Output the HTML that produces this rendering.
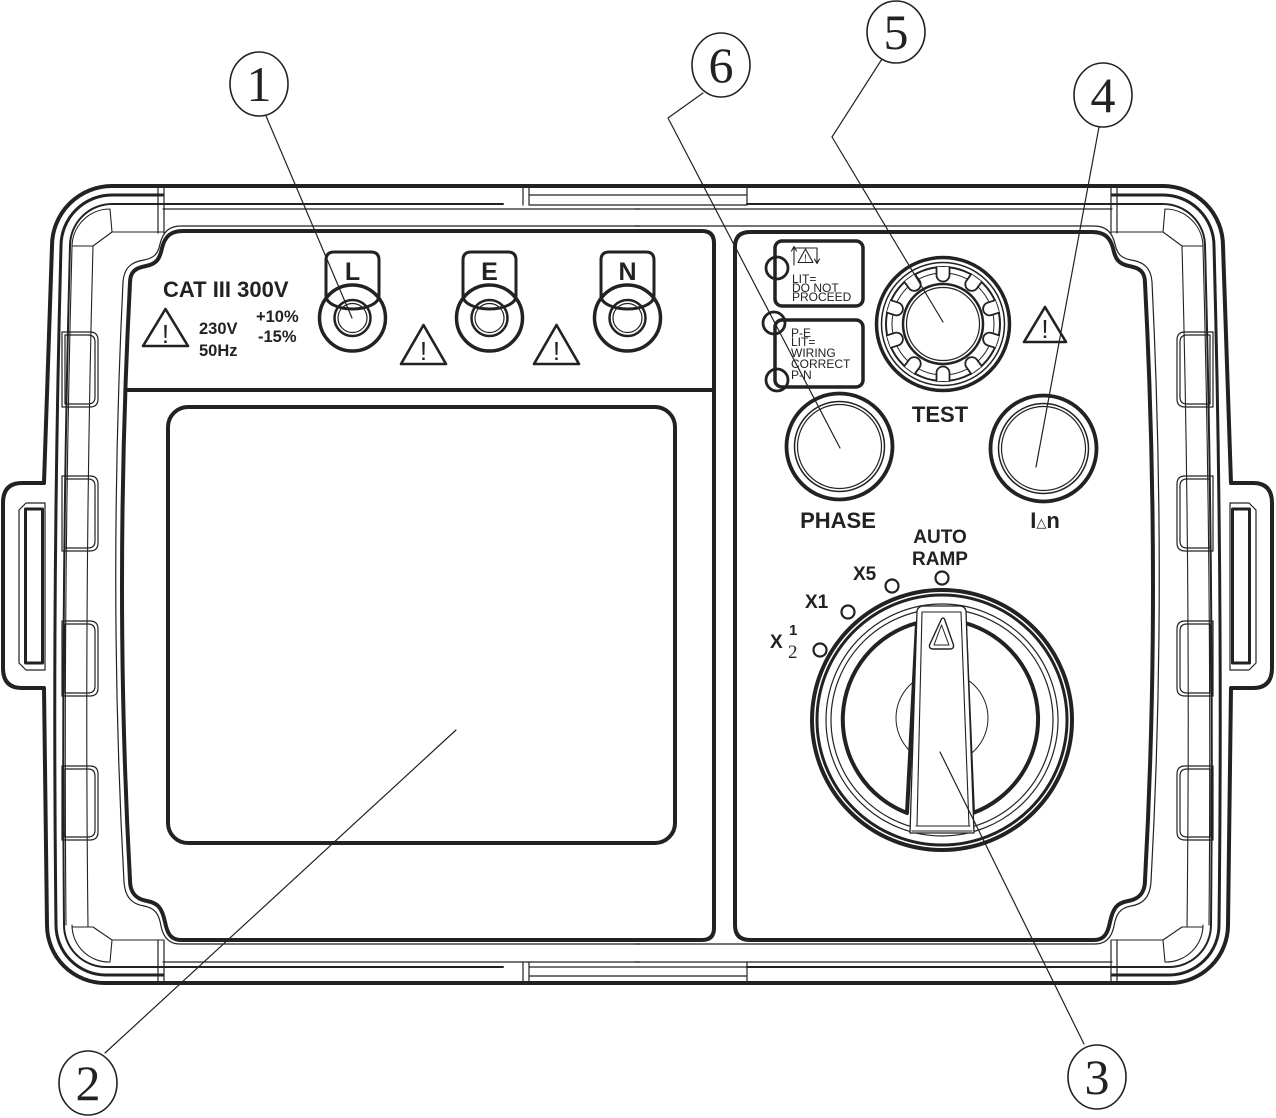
<!DOCTYPE html>
<html><head><meta charset="utf-8"><style>
html,body{margin:0;padding:0;background:#fff;}
svg{display:block;}
text{font-family:"Liberation Sans",Arial,sans-serif;fill:#222;}
.b{font-weight:bold;}
.serif{font-family:"Liberation Serif","DejaVu Serif",serif;font-weight:normal;}
</style></head><body>
<svg width="1276" height="1118" viewBox="0 0 1276 1118" xmlns="http://www.w3.org/2000/svg">
<defs>
<g id="half" fill="none" stroke="#222" stroke-linejoin="round" stroke-linecap="round">
  <path stroke-width="4" d="M640 186 H112 A60 60 0 0 0 52 246 L44 483 H22 Q3 483 3 503 V668 Q3 688 22 688 H44 L47 925 A58 58 0 0 0 105 983 H640"/>
  <path stroke-width="3" d="M163 195 H112 A51 51 0 0 0 61 246 Q52 585 56 925 A50 50 0 0 0 106 975 H163"/>
  <path stroke-width="2" d="M503 204 H112 A42 42 0 0 0 70 246 Q61 585 64 925 A42 42 0 0 0 106 967 H503"/>
  <path stroke-width="1.2" d="M640 209 H163 M640 962 H163"/>
  <path stroke-width="1.2" d="M158 186 V233 M164 186 V233 M158 940 V983 M164 940 V983"/>
  <path stroke-width="1.1" d="M163 232 H112 L93 246 M112 232 L110 209 M110 209 A38 38 0 0 0 72 247 M72 246 H93"/>
  <path stroke-width="1.1" d="M163 940 H112 L93 927 M112 940 L110 962 M110 962 A37 37 0 0 1 72 925 M72 927 H93"/>
  <path stroke-width="1.1" d="M72 247 Q63 585 66 925 M93 246 Q84 585 88 927"/>
  <path stroke-width="1.2" d="M640 226 H181 C169 226 163 232 160 244 C158 254 154 258 144 260 C131 262 124 268 123 282 Q108 590 124 882 C125 896 131 904 144 906 C155 908 159 914 161 926 C163 936 168 944 180 944 H640"/>
  <g stroke-width="1.2">
    <path d="M62 332 H90 Q98 332 98 340 V399 Q98 407 90 407 H62 Z M65 335 H88 Q95 335 95 342 V397 Q95 404 88 404 H65 Z"/>
    <path d="M62 476 H90 Q98 476 98 484 V543 Q98 551 90 551 H62 Z M65 479 H88 Q95 479 95 486 V541 Q95 548 88 548 H65 Z"/>
    <path d="M62 621 H90 Q98 621 98 629 V688 Q98 696 90 696 H62 Z M65 624 H88 Q95 624 95 631 V686 Q95 693 88 693 H65 Z"/>
    <path d="M62 766 H90 Q98 766 98 774 V832 Q98 840 90 840 H62 Z M65 769 H88 Q95 769 95 776 V830 Q95 837 88 837 H65 Z"/>
  </g>
  <path stroke-width="1.2" d="M19 510 L26 503 H45 V670 H26 L19 663 Z"/>
  <rect x="25.5" y="509" width="17" height="154" stroke-width="3"/>
</g>
</defs>

<use href="#half"/>
<use href="#half" transform="matrix(-1 0 0 1 1275 0)"/>

<g fill="none" stroke="#222" stroke-linejoin="round" stroke-linecap="round">
  <path stroke-width="1.2" d="M523 186 V205 M529 186 V205 M747 186 V205 M529 195 H747 M529 205 H747"/>
  <path stroke-width="1.2" d="M523 962 V983 M529 962 V983 M747 962 V983 M529 976 H747 M529 967 H747"/>
  <path stroke-width="2" d="M747 204 H772 M747 967 H772"/>

  <path stroke-width="4" fill="#fff" d="M183 231 H702 Q714 231 714 243 V928 Q714 940 702 940 H181 C170 940 167 932 165 922 C162 908 158 903 147 901 C136 899 130 893 130 880 Q114 590 130 283 C130 272 135 268 146 266 C157 264 160 258 162 248 C165 236 171 231 183 231 Z"/>
  <path stroke-width="4" d="M128 390 H714"/>
  <rect x="168" y="407" width="507" height="436" rx="20" stroke-width="4"/>

  <path stroke-width="4" fill="#fff" d="M750 232 H1092 C1104 232 1110 237 1113 248 C1115 258 1118 264 1129 266 C1140 268 1145 272 1145 283 Q1161 590 1145 880 C1145 893 1139 899 1128 901 C1117 903 1113 908 1110 922 C1108 932 1105 940 1094 940 H750 Q735 940 735 925 V247 Q735 232 750 232 Z"/>

  <g stroke-width="3">
    <path d="M326 296 V260 Q326 252 334 252 H371 Q379 252 379 260 V296 A26.5 13 0 0 1 326 296 Z"/>
    <circle cx="352.5" cy="318" r="33" stroke-width="3.5"/>
    <circle cx="352.5" cy="318" r="18" stroke-width="2.5"/>
    <circle cx="352.5" cy="318" r="14.5" stroke-width="1.2"/>

    <path d="M463 296 V260 Q463 252 471 252 H508 Q516 252 516 260 V296 A26.5 13 0 0 1 463 296 Z"/>
    <circle cx="489.5" cy="318" r="33" stroke-width="3.5"/>
    <circle cx="489.5" cy="318" r="18" stroke-width="2.5"/>
    <circle cx="489.5" cy="318" r="14.5" stroke-width="1.2"/>

    <path d="M601 296 V260 Q601 252 609 252 H646 Q654 252 654 260 V296 A26.5 13 0 0 1 601 296 Z"/>
    <circle cx="627.5" cy="318" r="33" stroke-width="3.5"/>
    <circle cx="627.5" cy="318" r="18" stroke-width="2.5"/>
    <circle cx="627.5" cy="318" r="14.5" stroke-width="1.2"/>
  </g>

  <g stroke-width="2.6">
    <path d="M165.5 309 L188 346 L143 346 Z"/>
    <path d="M423.5 325 L446 364 L401 364 Z"/>
    <path d="M556.5 325 L579 364 L534 364 Z"/>
    <path d="M1045 307 L1066 342 L1024 342 Z"/>
  </g>

  <rect x="775" y="241" width="88" height="65" rx="7" stroke-width="3.5"/>
  <rect x="775" y="320" width="88" height="67" rx="7" stroke-width="3.5"/>
  <circle cx="777" cy="268" r="11" stroke-width="2.8"/>
  <circle cx="774" cy="323" r="11" stroke-width="2.8"/>
  <circle cx="777" cy="380" r="11" stroke-width="2.8"/>
  <g stroke-width="1.1">
    <path d="M794 265 V248 H817 V262"/>
    <path d="M791.5 251 L794 246.5 L796.5 251 M814.5 259 L817 263.5 L819.5 259"/>
    <path d="M805.5 249 L813 262.5 L798 262.5 Z"/>
  </g>

  <circle cx="943" cy="324" r="66.5" stroke-width="3.5"/>
  <circle cx="943" cy="324" r="61.5" stroke-width="1.5"/>
  <circle cx="943" cy="324" r="57" stroke-width="2"/>
  <circle cx="943" cy="324" r="51" stroke-width="1"/>
  <g stroke-width="1.8" fill="#fff">
    <path d="M936.5 267 V275 A6.5 6.5 0 0 0 949.5 275 V267"/>
    <path d="M936.5 267 V275 A6.5 6.5 0 0 0 949.5 275 V267" transform="rotate(36 943 324)"/>
    <path d="M936.5 267 V275 A6.5 6.5 0 0 0 949.5 275 V267" transform="rotate(72 943 324)"/>
    <path d="M936.5 267 V275 A6.5 6.5 0 0 0 949.5 275 V267" transform="rotate(108 943 324)"/>
    <path d="M936.5 267 V275 A6.5 6.5 0 0 0 949.5 275 V267" transform="rotate(144 943 324)"/>
    <path d="M936.5 267 V275 A6.5 6.5 0 0 0 949.5 275 V267" transform="rotate(180 943 324)"/>
    <path d="M936.5 267 V275 A6.5 6.5 0 0 0 949.5 275 V267" transform="rotate(216 943 324)"/>
    <path d="M936.5 267 V275 A6.5 6.5 0 0 0 949.5 275 V267" transform="rotate(252 943 324)"/>
    <path d="M936.5 267 V275 A6.5 6.5 0 0 0 949.5 275 V267" transform="rotate(288 943 324)"/>
    <path d="M936.5 267 V275 A6.5 6.5 0 0 0 949.5 275 V267" transform="rotate(324 943 324)"/>
  </g>
  <circle cx="943" cy="324" r="40" stroke-width="2.5" fill="#fff"/>
  <circle cx="943" cy="324" r="36.5" stroke-width="1.2"/>

  <circle cx="839.5" cy="446.5" r="53" stroke-width="3.8"/>
  <circle cx="839.5" cy="446.5" r="45" stroke-width="1.5"/>
  <circle cx="839.5" cy="446.5" r="42" stroke-width="1.2"/>
  <circle cx="1043.5" cy="448.5" r="53" stroke-width="3.8"/>
  <circle cx="1043.5" cy="448.5" r="45" stroke-width="1.5"/>
  <circle cx="1043.5" cy="448.5" r="42" stroke-width="1.2"/>

  <g stroke-width="2.2">
    <circle cx="942" cy="578" r="6.5"/>
    <circle cx="892" cy="586" r="6.5"/>
    <circle cx="848" cy="612" r="6.5"/>
    <circle cx="820" cy="650" r="6.5"/>
  </g>

  <circle cx="942" cy="720" r="130" stroke-width="4"/>
  <circle cx="942" cy="720" r="125" stroke-width="3"/>
  <circle cx="942" cy="720" r="116" stroke-width="1.2"/>
  <circle cx="942" cy="720" r="111" stroke-width="1.2"/>
  <path stroke-width="4" d="M917 623 A100 100 0 0 0 907 813 Z"/>
  <path stroke-width="4" d="M965 623 A100 100 0 0 1 973 813 Z"/>
  <circle cx="942" cy="718" r="46" stroke-width="1"/>
  <path stroke-width="1.3" fill="#fff" d="M917 611 Q918 606 924 606 H959 Q965 606 966 611 L974 833 H910 Z"/>
  <path stroke-width="1.1" d="M922 612 H961 M922 612 L917 826 M961 612 L969 826 M916 826 H970 M912 831 H972"/>
  <path stroke-width="1.4" d="M941.5 619 Q943 617 944.5 619 L953.5 645 Q954 649 950 649 H933 Q929 649 929.5 645 Z"/>
  <path stroke-width="1" d="M941.5 625 L949 645 H934 Z"/>

  <g stroke-width="1.2">
    <path d="M266 116 L352 318"/>
    <path d="M105 1053 L456 730"/>
    <path d="M1084 1044 L940 752"/>
    <path d="M1099 127 L1036 467"/>
    <path d="M882 59 L832 137 L943 322"/>
    <path d="M703 93 L668 118 L840 448"/>
  </g>
  <g stroke-width="1.6" fill="#fff">
    <ellipse cx="259" cy="84" rx="29" ry="32"/>
    <ellipse cx="88" cy="1083" rx="29" ry="32"/>
    <ellipse cx="1097" cy="1077" rx="29" ry="32"/>
    <ellipse cx="1103" cy="95" rx="29" ry="32"/>
    <ellipse cx="896" cy="32" rx="29" ry="31"/>
    <ellipse cx="721" cy="65" rx="29" ry="32"/>
  </g>
</g>

<g class="serif" font-size="50" text-anchor="middle">
  <text class="serif" x="259" y="101">1</text>
  <text class="serif" x="88" y="1100">2</text>
  <text class="serif" x="1097" y="1094">3</text>
  <text class="serif" x="1103" y="112">4</text>
  <text class="serif" x="896" y="49">5</text>
  <text class="serif" x="721" y="82">6</text>
</g>

<text class="b" x="163" y="297" font-size="22">CAT III 300V</text>
<text class="b" x="199" y="334" font-size="16.5">230V</text>
<text class="b" x="199" y="356" font-size="16.5">50Hz</text>
<text class="b" x="256" y="322" font-size="16.5">+10%</text>
<text class="b" x="258" y="342" font-size="16.5">-15%</text>

<g font-size="26" text-anchor="middle">
  <text x="165.5" y="343">!</text>
  <text x="423.5" y="360">!</text>
  <text x="556.5" y="360">!</text>
  <text x="1045" y="338">!</text>
</g>
<text x="805.5" y="261.5" font-size="10" text-anchor="middle">!</text>

<g class="b" font-size="25" text-anchor="middle">
  <text class="b" x="352.5" y="280">L</text>
  <text class="b" x="489.5" y="280">E</text>
  <text class="b" x="627.5" y="280">N</text>
</g>

<g font-size="12">
  <text x="792" y="283">LIT=</text>
  <text x="792" y="292">DO NOT</text>
  <text x="792" y="301">PROCEED</text>
  <text x="791" y="337">P-E</text>
  <text x="791" y="346">LIT=</text>
  <text x="791" y="357">WIRING</text>
  <text x="791" y="368">CORRECT</text>
  <text x="791" y="379">P-N</text>
</g>

<text class="b" x="940" y="422" font-size="22" text-anchor="middle">TEST</text>
<text class="b" x="838" y="528" font-size="22" text-anchor="middle">PHASE</text>
<text class="b" x="1045" y="528" font-size="22" text-anchor="middle">I<tspan font-family="DejaVu Sans" font-weight="normal" font-size="13" dy="-1">△</tspan><tspan dy="1">n</tspan></text>

<text class="b" x="940" y="543" font-size="19" text-anchor="middle">AUTO</text>
<text class="b" x="940" y="565" font-size="19" text-anchor="middle">RAMP</text>
<text class="b" x="853" y="580" font-size="19">X5</text>
<text class="b" x="805" y="608" font-size="19">X1</text>
<text class="b" x="770" y="648" font-size="19">X</text>
<text class="b" x="789" y="635" font-size="15">1</text>
<text class="serif" x="788" y="658" font-size="19">2</text>
</svg>
</body></html>
